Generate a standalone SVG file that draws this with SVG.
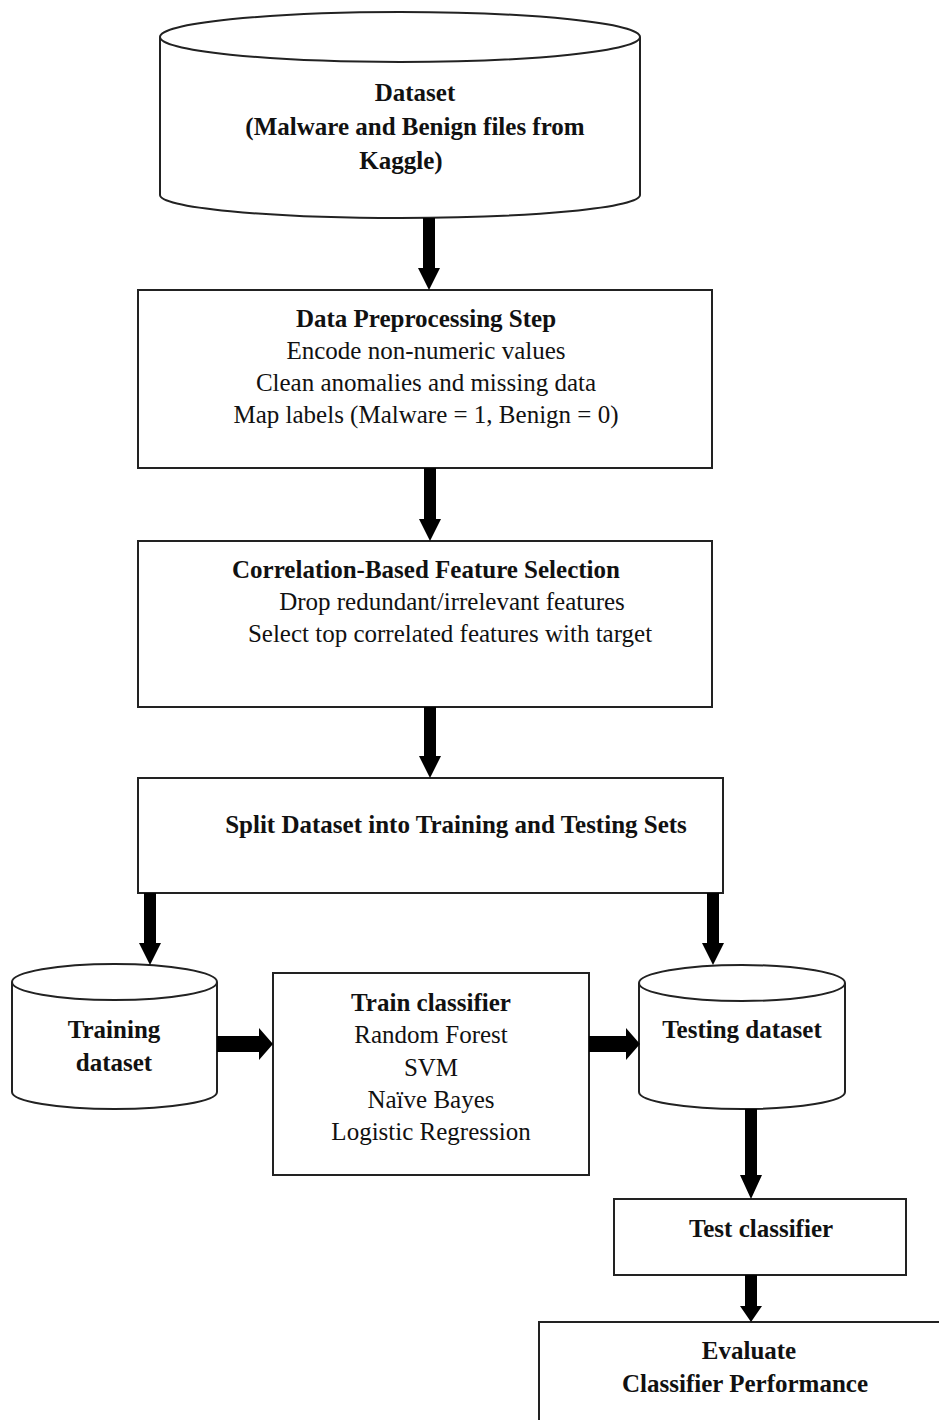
<svg xmlns="http://www.w3.org/2000/svg" width="939" height="1420" viewBox="0 0 939 1420">
<style>
.shape{fill:#fff;stroke:#222;stroke-width:2}
.arrow{fill:#000;stroke:none}
text{font-family:"Liberation Serif","Times New Roman",serif;font-size:25px;fill:#111;text-anchor:middle}
.b{font-weight:bold}
</style>
<rect width="939" height="1420" fill="#fff"/>
<g id="dataset">
<path class="shape" d="M160,37 L160,195 A240,23 0 0 0 640,195 L640,37"/>
<ellipse class="shape" cx="400" cy="37" rx="240" ry="25"/>
<text class="b" x="415" y="101">Dataset</text>
<text class="b" x="415" y="135">(Malware and Benign files from</text>
<text class="b" x="401" y="169">Kaggle)</text>
</g>
<g id="preprocess">
<rect class="shape" x="138" y="290" width="574" height="178"/>
<text class="b" x="426" y="327">Data Preprocessing Step</text>
<text x="426" y="359">Encode non-numeric values</text>
<text x="426" y="391">Clean anomalies and missing data</text>
<text x="426" y="423">Map labels (Malware = 1, Benign = 0)</text>
</g>
<g id="featsel">
<rect class="shape" x="138" y="541" width="574" height="166"/>
<text class="b" x="426" y="578">Correlation-Based Feature Selection</text>
<text x="452" y="610">Drop redundant/irrelevant features</text>
<text x="450" y="642">Select top correlated features with target</text>
</g>
<g id="split">
<rect class="shape" x="138" y="778" width="585" height="115"/>
<text class="b" x="456" y="833">Split Dataset into Training and Testing Sets</text>
</g>
<g id="training">
<path class="shape" d="M12,982 L12,1092 A102.5,17 0 0 0 217,1092 L217,982"/>
<ellipse class="shape" cx="114.5" cy="982" rx="102.5" ry="18"/>
<text class="b" x="114" y="1038">Training</text>
<text class="b" x="114" y="1071">dataset</text>
</g>
<g id="train">
<rect class="shape" x="273" y="973" width="316" height="202"/>
<text class="b" x="431" y="1011">Train classifier</text>
<text x="431" y="1043">Random Forest</text>
<text x="431" y="1076">SVM</text>
<text x="431" y="1108">Naïve Bayes</text>
<text x="431" y="1140">Logistic Regression</text>
</g>
<g id="testing">
<path class="shape" d="M639,983 L639,1092 A103,17 0 0 0 845,1092 L845,983"/>
<ellipse class="shape" cx="742" cy="983" rx="103" ry="18"/>
<text class="b" x="742" y="1038">Testing dataset</text>
</g>
<g id="test">
<rect class="shape" x="614" y="1199" width="292" height="76"/>
<text class="b" x="761" y="1237">Test classifier</text>
</g>
<g id="evaluate">
<rect class="shape" x="539" y="1322" width="420" height="120"/>
<text class="b" x="749" y="1359">Evaluate</text>
<text class="b" x="745" y="1392">Classifier Performance</text>
</g>
<g id="connectors">
<polygon class="arrow" points="423,218 435,218 435,268 440,268 429,290 418,268 423,268"/>
<polygon class="arrow" points="424,468 436,468 436,519 441,519 430,541 419,519 424,519"/>
<polygon class="arrow" points="424,707 436,707 436,756 441,756 430,778 419,756 424,756"/>
<polygon class="arrow" points="144,893 156,893 156,943 161,943 150,965 139,943 144,943"/>
<polygon class="arrow" points="707,893 719,893 719,943 724,943 713,965 702,943 707,943"/>
<polygon class="arrow" points="745,1109 757,1109 757,1175 762,1175 751,1199 740,1175 745,1175"/>
<polygon class="arrow" points="745,1275 757,1275 757,1306 762,1306 751,1322 740,1306 745,1306"/>
<polygon class="arrow" points="217,1036 259,1036 259,1028 273,1044 259,1060 259,1052 217,1052"/>
<polygon class="arrow" points="589,1036 626,1036 626,1028 640,1044 626,1060 626,1052 589,1052"/>
</g>
</svg>
